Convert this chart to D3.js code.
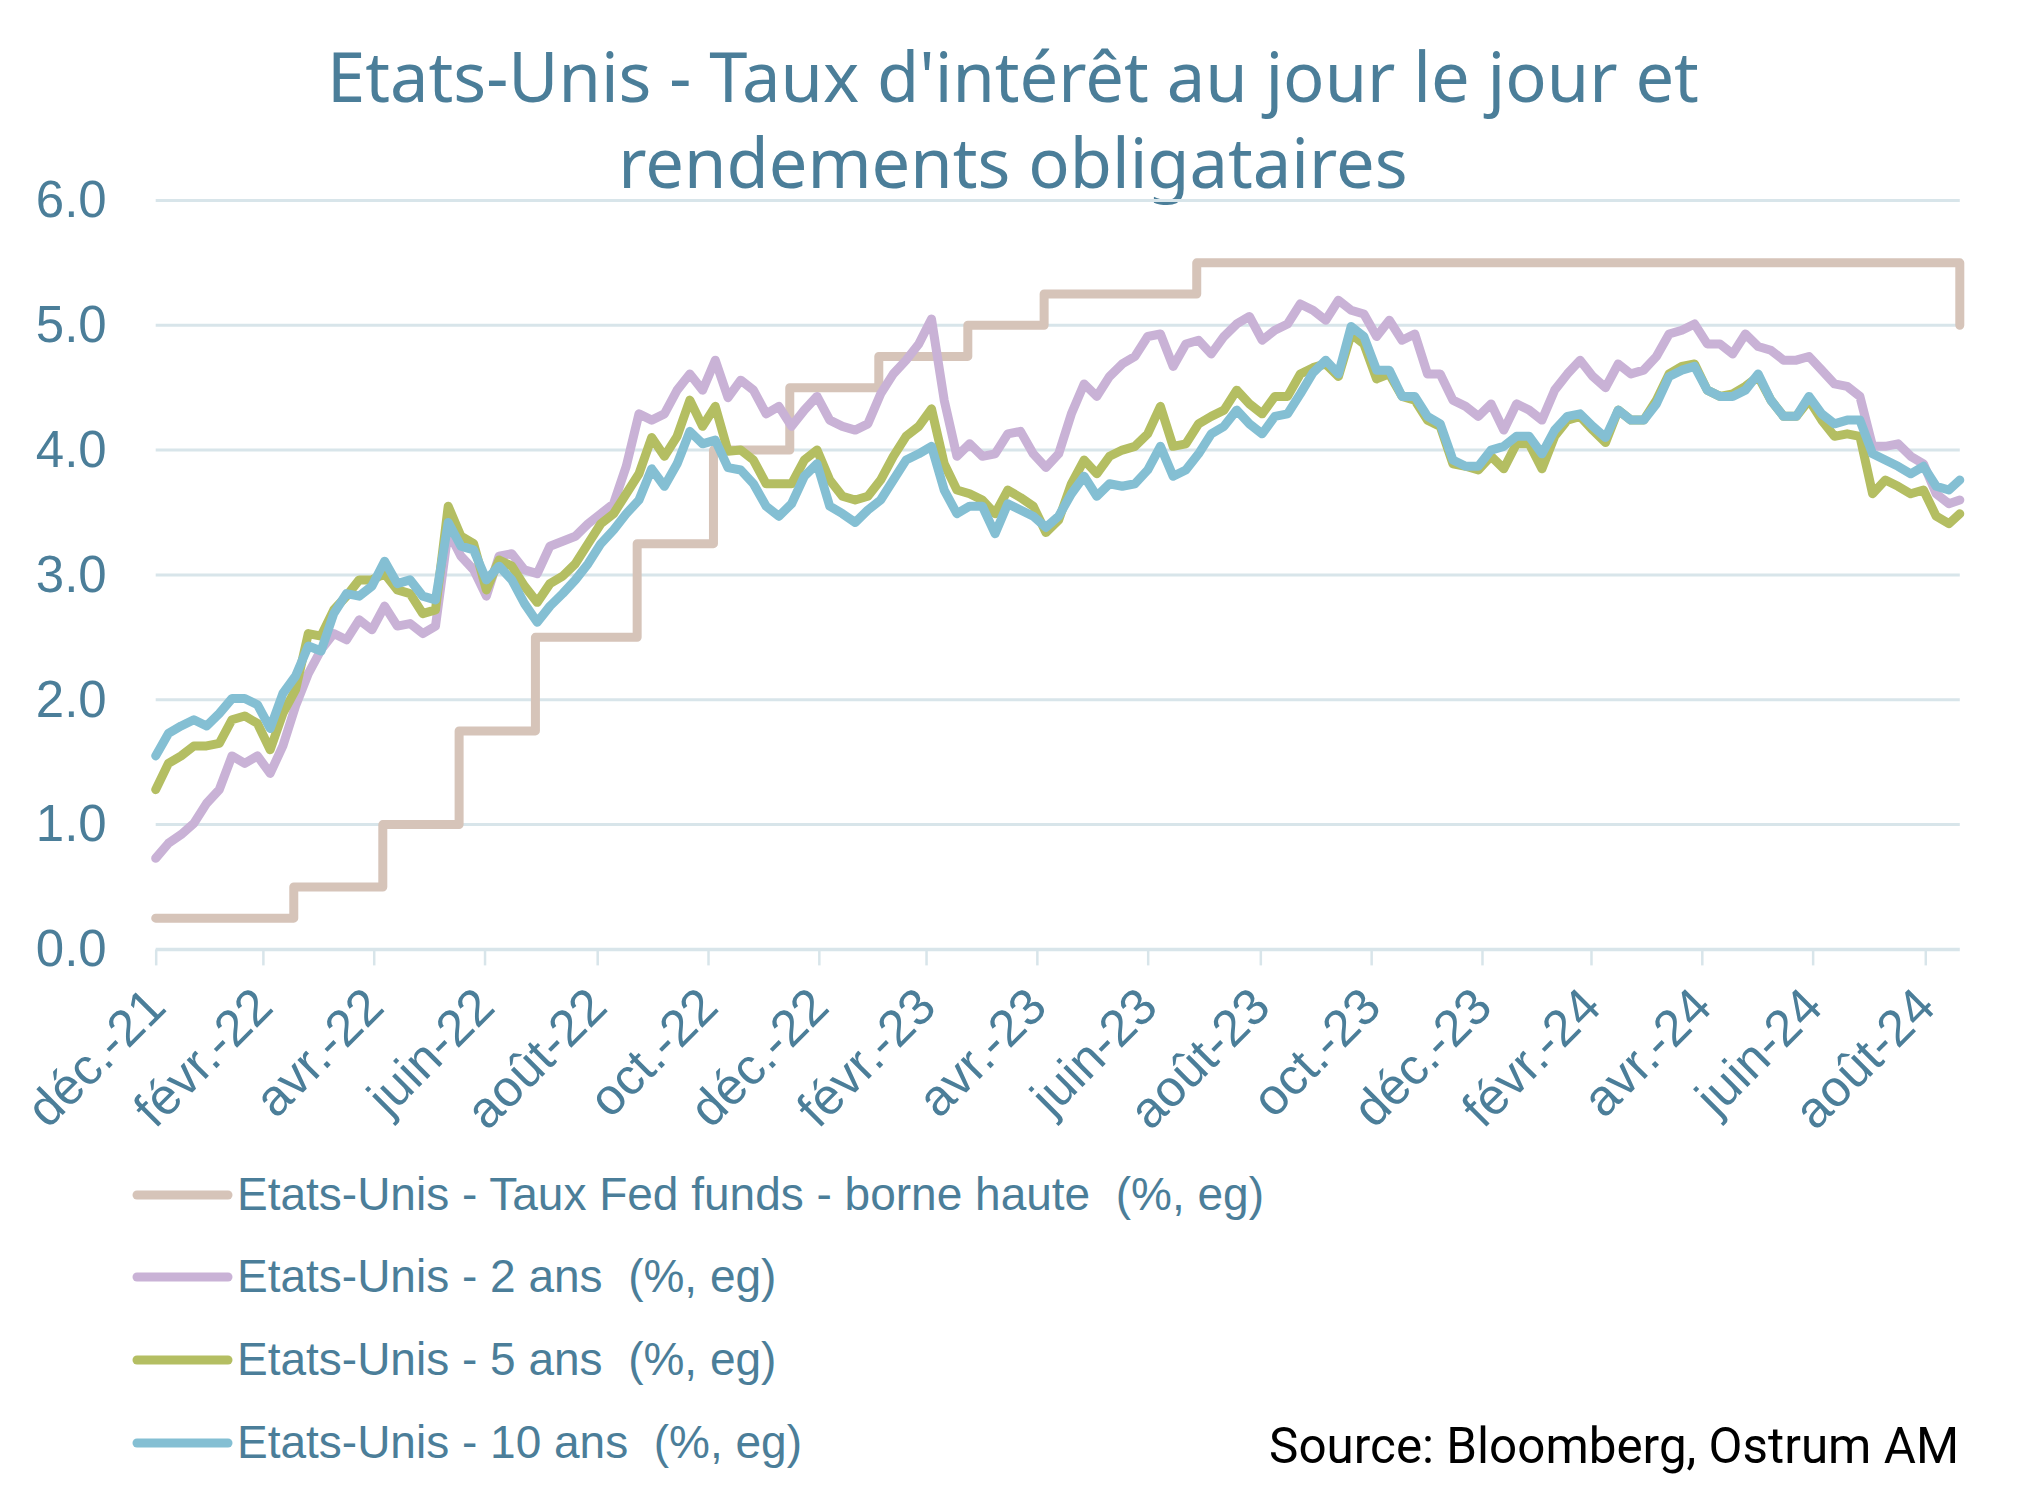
<!DOCTYPE html>
<html><head><meta charset="utf-8">
<script src="https://cdn.jsdelivr.net/npm/d3@7"></script>
<style>body{margin:0;background:#fff}</style>
</head><body>
<svg id="c" width="2029" height="1510"></svg>
<script>
// ---------- DATA ----------
const titleLines = ["Etats-Unis - Taux d'intérêt au jour le jour et", "rendements obligataires"];
const sourceText = "Source: Bloomberg, Ostrum AM";
const startDate = "2021-12-31";
const endDate = "2024-09-19";
const yTicks = [0, 1, 2, 3, 4, 5, 6];
const xTickDates = ["2021-12-31","2022-02-28","2022-04-30","2022-06-30","2022-08-31","2022-10-31","2022-12-31","2023-02-28","2023-04-30","2023-06-30","2023-08-31","2023-10-31","2023-12-31","2024-02-29","2024-04-30","2024-06-30","2024-08-31"];
const xTickLabels = ["déc.-21","févr.-22","avr.-22","juin-22","août-22","oct.-22","déc.-22","févr.-23","avr.-23","juin-23","août-23","oct.-23","déc.-23","févr.-24","avr.-24","juin-24","août-24"];
const seriesNames = ["Etats-Unis - Taux Fed funds - borne haute  (%, eg)", "Etats-Unis - 2 ans  (%, eg)", "Etats-Unis - 5 ans  (%, eg)", "Etats-Unis - 10 ans  (%, eg)"];
const seriesColors = ["#d6c4b9", "#c9b2d6", "#b4be62", "#84bfd3"];

// Fed funds upper bound: change dates and levels
const fedDates = ["2021-12-31","2022-03-17","2022-05-05","2022-06-16","2022-07-28","2022-09-22","2022-11-03","2022-12-15","2023-02-02","2023-03-23","2023-05-04","2023-07-27","2024-09-19"];
const fedValues = [0.25, 0.50, 1.00, 1.75, 2.50, 3.25, 4.00, 4.50, 4.75, 5.00, 5.25, 5.50, 5.00];

// Weekly readings (from 2021-12-31, every 7 days, last = 2024-09-19)
const y2 = [0.73,0.85,0.92,1.01,1.17,1.28,1.55,1.49,1.55,1.41,1.63,1.95,2.21,2.40,2.53,2.48,2.64,2.56,2.75,2.59,
2.61,2.53,2.59,3.35,3.15,3.04,2.83,3.15,3.17,3.04,3.01,3.23,3.27,3.31,3.41,3.49,3.57,3.87,4.29,4.24,
4.29,4.48,4.61,4.48,4.72,4.42,4.56,4.48,4.29,4.35,4.19,4.32,4.43,4.24,4.19,4.16,4.21,4.45,4.61,4.72,
4.85,5.05,4.40,3.95,4.05,3.95,3.97,4.13,4.15,3.97,3.86,3.97,4.29,4.53,4.43,4.59,4.69,4.75,4.91,4.93,
4.67,4.85,4.88,4.77,4.91,5.01,5.07,4.88,4.96,5.01,5.17,5.12,5.04,5.20,5.12,5.09,4.91,5.04,4.88,4.93,
4.61,4.61,4.40,4.35,4.27,4.37,4.16,4.37,4.32,4.24,4.48,4.61,4.72,4.59,4.50,4.69,4.61,4.64,4.75,4.93,
4.96,5.01,4.85,4.85,4.77,4.93,4.83,4.80,4.72,4.72,4.75,4.64,4.53,4.51,4.43,4.03,4.03,4.05,3.95,3.89,
3.65,3.57,3.60];
const y5 = [1.28,1.49,1.55,1.63,1.63,1.65,1.84,1.87,1.81,1.60,1.89,2.08,2.53,2.51,2.72,2.83,2.96,2.96,3.01,2.88,
2.85,2.69,2.72,3.55,3.31,3.25,2.88,3.12,3.07,2.91,2.78,2.93,2.99,3.09,3.25,3.41,3.49,3.65,3.81,4.10,
3.95,4.11,4.40,4.19,4.35,3.99,4.00,3.92,3.73,3.73,3.73,3.92,4.00,3.76,3.63,3.60,3.63,3.76,3.95,4.11,
4.19,4.33,3.89,3.68,3.65,3.60,3.49,3.68,3.62,3.55,3.34,3.44,3.73,3.92,3.81,3.95,4.00,4.03,4.13,4.35,
4.03,4.05,4.21,4.27,4.32,4.48,4.37,4.29,4.43,4.43,4.61,4.66,4.69,4.59,4.93,4.85,4.57,4.61,4.43,4.40,
4.24,4.19,3.89,3.87,3.84,3.95,3.85,4.05,4.05,3.85,4.11,4.24,4.27,4.16,4.06,4.32,4.24,4.24,4.40,4.61,
4.67,4.69,4.48,4.43,4.45,4.51,4.59,4.40,4.27,4.27,4.40,4.24,4.11,4.13,4.11,3.65,3.76,3.71,3.65,3.68,
3.47,3.41,3.49];
const y10 = [1.55,1.73,1.79,1.84,1.79,1.89,2.01,2.01,1.96,1.77,2.05,2.19,2.43,2.39,2.69,2.85,2.83,2.91,3.11,2.93,
2.96,2.83,2.80,3.42,3.23,3.20,2.96,3.07,2.96,2.77,2.62,2.75,2.85,2.96,3.09,3.25,3.36,3.49,3.60,3.85,
3.71,3.89,4.15,4.05,4.08,3.86,3.84,3.73,3.55,3.47,3.57,3.79,3.89,3.55,3.49,3.42,3.52,3.60,3.76,3.92,
3.97,4.03,3.68,3.49,3.55,3.55,3.33,3.57,3.52,3.47,3.38,3.47,3.65,3.79,3.63,3.73,3.71,3.73,3.84,4.03,
3.79,3.84,3.97,4.13,4.19,4.32,4.21,4.13,4.27,4.29,4.45,4.62,4.72,4.61,4.99,4.91,4.64,4.64,4.43,4.43,
4.27,4.21,3.92,3.87,3.87,4.00,4.03,4.11,4.11,3.97,4.16,4.27,4.29,4.19,4.10,4.32,4.24,4.24,4.37,4.59,
4.64,4.67,4.48,4.43,4.43,4.48,4.61,4.40,4.27,4.27,4.43,4.29,4.21,4.24,4.24,3.97,3.92,3.87,3.81,3.87,
3.71,3.68,3.76];

// ---------- CHART ----------
const parse = d3.timeParse("%Y-%m-%d");
const t0 = parse(startDate), t1 = parse(endDate);
const weekDates = d3.timeDay.range(t0, t1, 7).concat([t1]);

const svg = d3.select("#c");
const textColor = "#4b7e99";
const gridColor = "#d8e5ea";
const LEFT = 155.7, RIGHT = 1959.8, TOP = 200.4, BOTTOM = 949.4;

const x = d3.scaleTime().domain([t0, t1]).range([LEFT, RIGHT]);
const y = d3.scaleLinear().domain([0, 6]).range([BOTTOM, TOP]);

// title
const title = svg.append("g");
titleLines.forEach((t, i) => {
  title.append("text").attr("x", 1013).attr("y", i === 0 ? 102 : 188)
    .attr("text-anchor", "middle").attr("fill", textColor)
    .style("font-family", "'Noto Sans', sans-serif").style("font-size", "66px")
    .text(t);
});
(function(){
  const n = title.select("text").node();
  const w = n.getComputedTextLength();
  const fs = 66 * 1372 / w;
  title.selectAll("text").style("font-size", Math.min(fs, 70) + "px");
})();

// gridlines
svg.append("g").selectAll("line").data(yTicks.filter(d => d > 0)).join("line")
  .attr("x1", LEFT).attr("x2", RIGHT)
  .attr("y1", d => y(d)).attr("y2", d => y(d))
  .attr("stroke", gridColor).attr("stroke-width", 3);

// y axis labels
const yAxis = svg.append("g").attr("transform", `translate(${LEFT},0)`)
  .call(d3.axisLeft(y).tickValues(yTicks).tickSize(0).tickPadding(49).tickFormat(d3.format(".1f")));
yAxis.select(".domain").remove();
yAxis.selectAll("text").attr("fill", textColor)
  .style("font-family", "'Liberation Sans', Arial, sans-serif").style("font-size", "51px");

// x axis
const xAxis = svg.append("g").attr("transform", `translate(0,${BOTTOM})`)
  .call(d3.axisBottom(x).tickValues(xTickDates.map(parse)).tickSize(16)
    .tickFormat((d, i) => xTickLabels[i]));
xAxis.select(".domain").attr("d", `M${LEFT},0H${RIGHT}`).attr("stroke", gridColor).attr("stroke-width", 3.5);
xAxis.selectAll(".tick line").attr("stroke", gridColor).attr("stroke-width", 2.5);
xAxis.selectAll(".tick text")
  .attr("x", 0).attr("y", 0).attr("dy", 0)
  .attr("text-anchor", "end")
  .attr("transform", "translate(12,60) rotate(-45)")
  .attr("fill", textColor)
  .style("font-family", "'Liberation Sans', Arial, sans-serif").style("font-size", "51px");

// series
const plot = svg.append("g");
const fedData = fedDates.map((d, i) => ({date: parse(d), value: fedValues[i]}));
plot.append("path").datum(fedData)
  .attr("fill", "none").attr("stroke", seriesColors[0]).attr("stroke-width", 9)
  .attr("stroke-linejoin", "round").attr("stroke-linecap", "round")
  .attr("d", d3.line().x(d => x(d.date)).y(d => y(d.value)).curve(d3.curveStepAfter));

const line = d3.line().x(d => x(d.date)).y(d => y(d.value));
[y2, y5, y10].forEach((vals, s) => {
  const data = vals.map((v, i) => ({date: weekDates[i], value: v}));
  plot.append("path").datum(data)
    .attr("fill", "none").attr("stroke", seriesColors[s + 1]).attr("stroke-width", 9)
    .attr("stroke-linejoin", "round").attr("stroke-linecap", "round")
    .attr("d", line);
});

// legend
const legY = [1195, 1277, 1360, 1443];
const leg = svg.append("g");
seriesNames.forEach((name, i) => {
  leg.append("line").attr("x1", 137).attr("x2", 228).attr("y1", legY[i]).attr("y2", legY[i])
    .attr("stroke", seriesColors[i]).attr("stroke-width", 9).attr("stroke-linecap", "round");
  leg.append("text").attr("x", 237).attr("y", legY[i] + 15)
    .attr("fill", textColor)
    .style("font-family", "'Liberation Sans', Arial, sans-serif").style("font-size", "46px")
    .attr("xml:space", "preserve")
    .text(name);
});

// source
const src = svg.append("text").attr("x", 1959).attr("y", 1463).attr("text-anchor", "end")
  .attr("fill", "#000")
  .style("font-family", "'Roboto', sans-serif").style("font-size", "46px")
  .text(sourceText);
(function(){
  const w = src.node().getComputedTextLength();
  src.style("font-size", (46 * 690 / w) + "px");
})();
</script>
</body></html>
